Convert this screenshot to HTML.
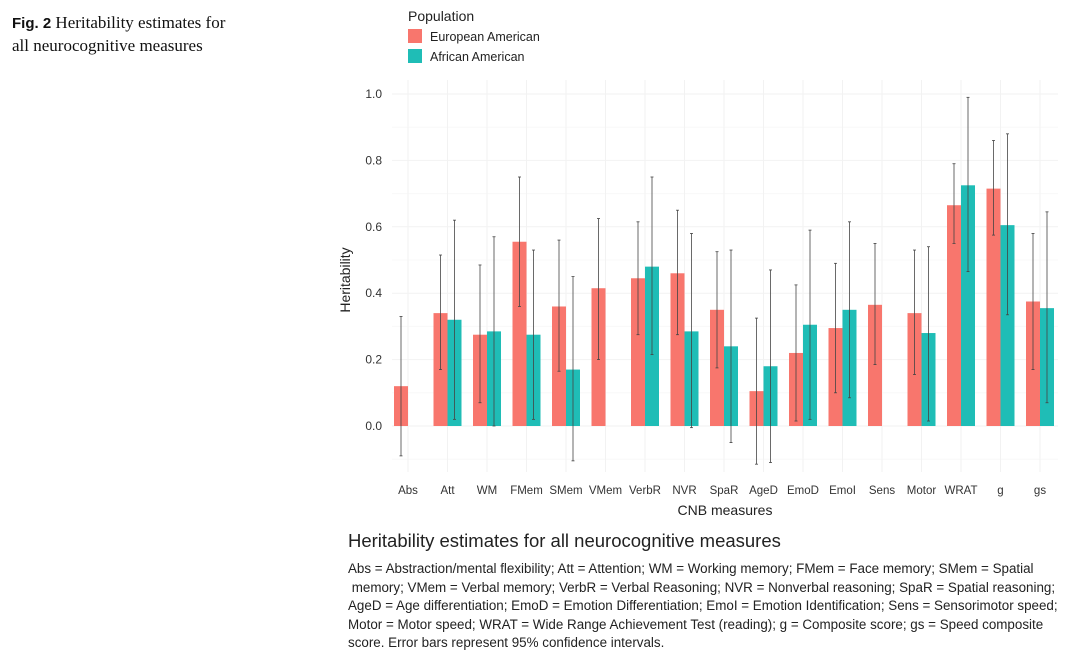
<!DOCTYPE html>
<html><head><meta charset="utf-8"><style>
body{margin:0;width:1085px;height:664px;background:#fff;overflow:hidden;position:relative;font-family:"Liberation Sans",sans-serif}
.fig{position:absolute;left:12px;top:12px;font-family:"Liberation Serif",serif;font-size:17px;line-height:22px;color:#111}
.cap{position:absolute;left:348px;top:530px;color:#222}
.cap h1{font-weight:normal;font-size:18.5px;margin:0 0 8px 0}
.cap p{margin:0;font-size:13.4px;line-height:18.6px;white-space:nowrap}
</style></head><body>
<div class="fig"><b style="font-family:'Liberation Sans',sans-serif;font-size:15px">Fig. 2</b> Heritability estimates for<br>all neurocognitive measures</div>
<svg id="chart" width="1085" height="525" style="position:absolute;left:0;top:0"></svg>
<div class="cap"><h1>Heritability estimates for all neurocognitive measures</h1>
<p>Abs = Abstraction/mental flexibility; Att = Attention; WM = Working memory; FMem = Face memory; SMem = Spatial<br>&nbsp;memory; VMem = Verbal memory; VerbR = Verbal Reasoning; NVR = Nonverbal reasoning; SpaR = Spatial reasoning;<br>AgeD = Age differentiation; EmoD = Emotion Differentiation; EmoI = Emotion Identification; Sens = Sensorimotor speed;<br>Motor = Motor speed; WRAT = Wide Range Achievement Test (reading); g = Composite score; gs = Speed composite<br>score. Error bars represent 95% confidence intervals.</p></div>
<script>
const categories=["Abs","Att","WM","FMem","SMem","VMem","VerbR","NVR","SpaR","AgeD","EmoD","EmoI","Sens","Motor","WRAT","g","gs"];
const eaVal=[0.12,0.34,0.275,0.555,0.36,0.415,0.445,0.46,0.35,0.105,0.22,0.295,0.365,0.34,0.665,0.715,0.375];
const eaLo=[-0.09,0.17,0.07,0.36,0.165,0.2,0.275,0.275,0.175,-0.115,0.015,0.1,0.185,0.155,0.55,0.575,0.17];
const eaHi=[0.33,0.515,0.485,0.75,0.56,0.625,0.615,0.65,0.525,0.325,0.425,0.49,0.55,0.53,0.79,0.86,0.58];
const aaVal=[null,0.32,0.285,0.275,0.17,null,0.48,0.285,0.24,0.18,0.305,0.35,null,0.28,0.725,0.605,0.355];
const aaLo=[null,0.02,0.0,0.02,-0.105,null,0.215,-0.005,-0.05,-0.11,0.02,0.085,null,0.015,0.465,0.335,0.07];
const aaHi=[null,0.62,0.57,0.53,0.45,null,0.75,0.58,0.53,0.47,0.59,0.615,null,0.54,0.99,0.88,0.645];
const yTicks=[0.0,0.2,0.4,0.6,0.8,1.0];
const svg=document.getElementById('chart');const NS='http://www.w3.org/2000/svg';
function y(v){return 426-(v)*332;}
function x(i){return 408+i*39.5;}
function mk(t,a,p){const e=document.createElementNS(NS,t);for(const k in a)e.setAttribute(k,a[k]);(p||svg).appendChild(e);return e;}
const grid=mk('g',{});
for(let v=-0.1;v<=1.05;v+=0.1){mk('line',{x1:392,x2:1058,y1:y(v),y2:y(v),stroke:Math.abs(Math.round(v*10)%2)==0?'#f2f2f2':'#f8f8f8','stroke-width':1},grid);}
categories.forEach((c,i)=>{mk('line',{x1:x(i),x2:x(i),y1:80,y2:472,stroke:'#f2f2f2'},grid);});
yTicks.forEach(v=>{const t=mk('text',{x:382,y:y(v)+4,'text-anchor':'end','font-size':12,fill:'#333'});t.textContent=v.toFixed(1);});
function bar(i,v,lo,hi,off,col,nm){if(v==null)return;const cx=x(i)+off;
const r=mk('rect',{x:cx-7,y:Math.min(y(v),y(0)),width:14,height:Math.abs(y(0)-y(v)),fill:col});

const e=mk('g',{stroke:'#444','stroke-width':0.8});
mk('line',{x1:cx,x2:cx,y1:y(lo),y2:y(hi)},e);mk('line',{x1:cx-1.5,x2:cx+1.5,y1:y(lo),y2:y(lo)},e);mk('line',{x1:cx-1.5,x2:cx+1.5,y1:y(hi),y2:y(hi)},e);}
categories.forEach((c,i)=>{bar(i,eaVal[i],eaLo[i],eaHi[i],-7,'#f8766d','ea');bar(i,aaVal[i],aaLo[i],aaHi[i],7,'#1fbdb6','aa');
const t=mk('text',{x:x(i),y:494,'text-anchor':'middle','font-size':11.5,fill:'#333'});t.textContent=c;});
let t=mk('text',{x:725,y:515,'text-anchor':'middle','font-size':14,fill:'#222'});t.textContent='CNB measures';
t=mk('text',{x:0,y:0,'text-anchor':'middle','font-size':14,fill:'#222',transform:'translate(350,280) rotate(-90)'});t.textContent='Heritability';
const lg=mk('g',{});
t=mk('text',{x:408,y:21,'font-size':14,fill:'#222'},lg);t.textContent='Population';
mk('rect',{x:408,y:29,width:14,height:14,fill:'#f8766d'},lg);mk('rect',{x:408,y:49,width:14,height:14,fill:'#1fbdb6'},lg);
t=mk('text',{x:430,y:41,'font-size':12.5,fill:'#222'},lg);t.textContent='European American';
t=mk('text',{x:430,y:61,'font-size':12.5,fill:'#222'},lg);t.textContent='African American';
</script></body></html>
